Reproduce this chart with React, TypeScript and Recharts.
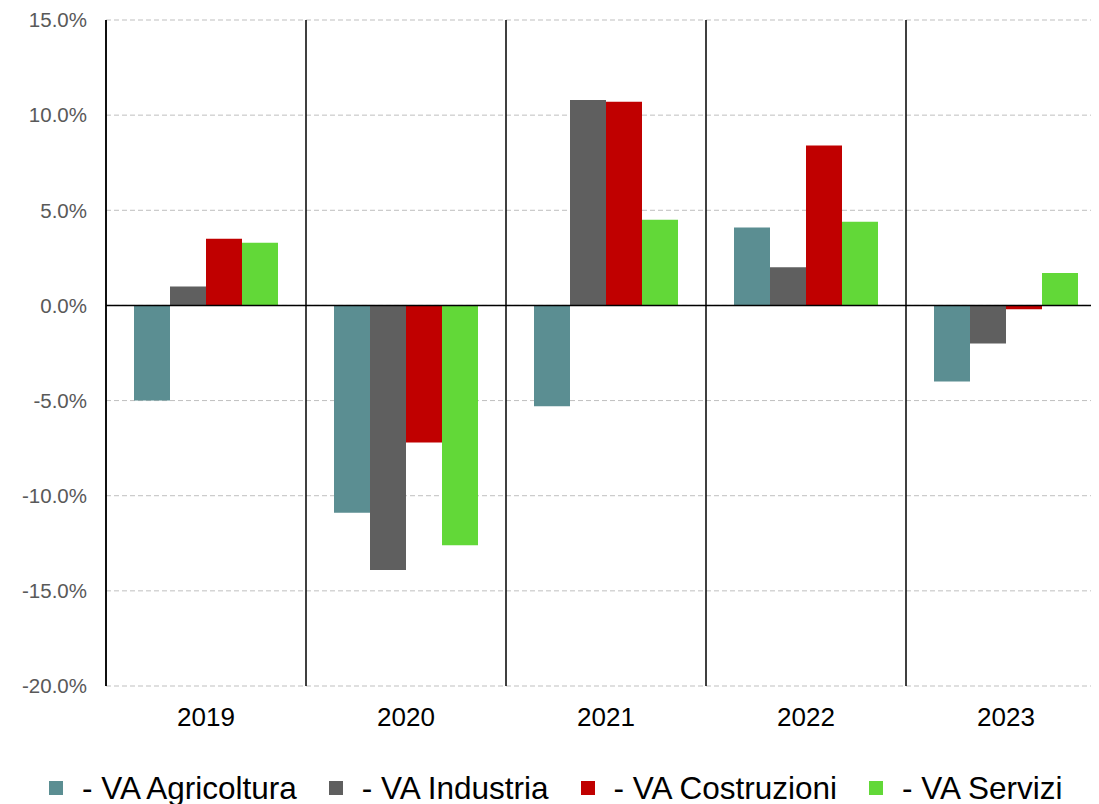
import { BarChart, Bar, XAxis, YAxis, CartesianGrid, ReferenceLine, Legend } from 'recharts';

// Data
const years = ['2019', '2020', '2021', '2022', '2023'];
const agricoltura = [-5.0, -10.9, -5.3, 4.1, -4.0];
const industria = [1.0, -13.9, 10.8, 2.0, -2.0];
const costruzioni = [3.5, -7.2, 10.7, 8.4, -0.2];
const servizi = [3.3, -12.6, 4.5, 4.4, 1.7];
const yTicks = [-20, -15, -10, -5, 0, 5, 10, 15];
// separators sit on the category boundaries (index space 0..n)
const separatorTicks = [0, 1, 2, 3, 4, 5];

const seriesDefs = [
  { key: 'agricoltura', name: '- VA Agricoltura', color: '#5B8E92' },
  { key: 'industria', name: '- VA Industria', color: '#5F5F5F' },
  { key: 'costruzioni', name: '- VA Costruzioni', color: '#C00000' },
  { key: 'servizi', name: '- VA Servizi', color: '#62D838' },
];

const chartData = years.map((year, i) => ({
  year,
  pos: i,
  agricoltura: agricoltura[i],
  industria: industria[i],
  costruzioni: costruzioni[i],
  servizi: servizi[i],
}));

const FONT = '"Liberation Sans", Arial, sans-serif';

const CustomLegend = () => (
  <div
    style={{
      height: 50,
      boxSizing: 'border-box',
      paddingTop: 17,
      paddingLeft: 49,
      display: 'flex',
      alignItems: 'center',
      fontFamily: FONT,
      fontSize: 31.5,
      lineHeight: '30px',
      color: '#000',
    }}
  >
    {seriesDefs.map((s) => (
      <div key={s.key} style={{ display: 'flex', alignItems: 'center', marginRight: 32 }}>
        <span style={{ width: 14, height: 14, background: s.color, display: 'inline-block', marginRight: 19 }} />
        <span style={{ whiteSpace: 'nowrap' }}>{s.name}</span>
      </div>
    ))}
  </div>
);

export default function App() {
  return (
    <div
      style={{
        position: 'relative',
        margin: '-8px 0 0 -8px',
        width: 1099,
        height: 804,
        overflow: 'hidden',
        background: '#fff',
        fontFamily: FONT,
      }}
    >
      <BarChart
        width={1106}
        height={804}
        data={chartData}
        margin={{ top: 20, right: 0, bottom: 0, left: 0 }}
        barCategoryGap="14%"
        barGap={0}
      >
        {/* dashed horizontal gridlines */}
        <CartesianGrid horizontal={true} vertical={false} stroke="#BFBFBF" strokeDasharray="5 3" />
        {/* solid black separators between years */}
        <CartesianGrid xAxisId="sep" horizontal={false} vertical={true} stroke="#000" strokeWidth={1.5} />
        <XAxis
          dataKey="year"
          height={68}
          axisLine={false}
          tickLine={false}
          tickMargin={16}
          tick={{ fontSize: 26, fill: '#000', fontFamily: FONT }}
        />
        <XAxis
          xAxisId="sep"
          dataKey="pos"
          type="number"
          domain={[0, 5]}
          allowDataOverflow
          ticks={separatorTicks}
          hide
        />
        <YAxis
          width={106}
          domain={[-20, 15]}
          ticks={yTicks}
          allowDataOverflow
          axisLine={{ stroke: '#000', strokeWidth: 1.5 }}
          tickLine={false}
          tickMargin={13}
          tickFormatter={(v: number) => `${v.toFixed(1)}%`}
          tick={{ fontSize: 20.5, fill: '#595959', fontFamily: FONT }}
        />
        <Legend verticalAlign="bottom" content={<CustomLegend />} wrapperStyle={{ left: 0, width: 1099 }} />
        {seriesDefs.map((s) => (
          <Bar key={s.key} dataKey={s.key} name={s.name} fill={s.color} isAnimationActive={false} />
        ))}
        <ReferenceLine y={0} stroke="#000" strokeWidth={1.5} />
      </BarChart>
    </div>
  );
}
